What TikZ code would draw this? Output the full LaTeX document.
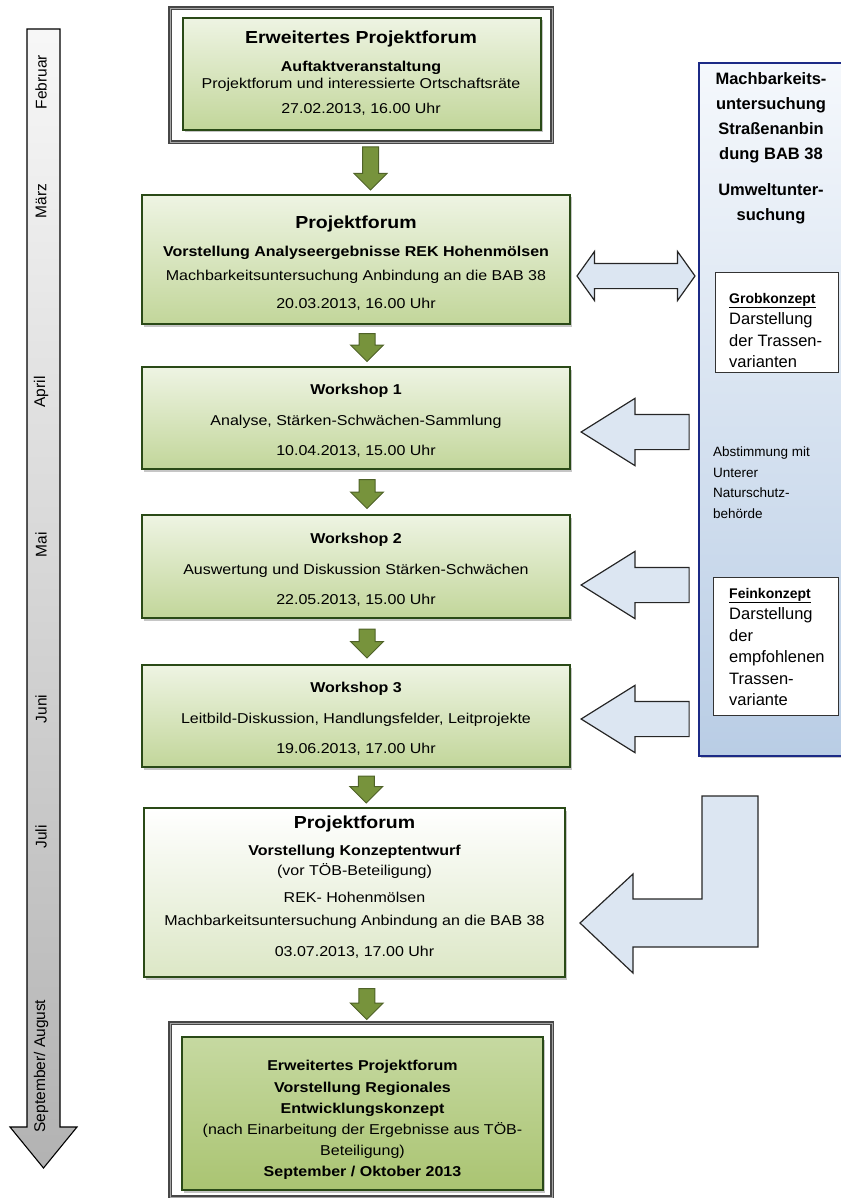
\documentclass[tikz,border=0pt]{standalone}
\usepackage{fontspec}
\setmainfont{Liberation Sans}[FakeStretch=1.12]
\newfontfamily\panelfont{Liberation Sans}
\usetikzlibrary{calc,shapes.arrows,shadows}

\definecolor{boxlight}{HTML}{EEF4E3}
\definecolor{boxgreen}{HTML}{C2D69A}
\definecolor{boxpale}{HTML}{DCE7C6}
\definecolor{boxtop}{HTML}{C6D9A1}
\definecolor{boxmid}{HTML}{9DBD5C}
\definecolor{boxbot}{HTML}{AAC472}
\definecolor{edgegreen}{HTML}{2A4A17}
\definecolor{arrgreen}{HTML}{77933C}
\definecolor{arrgreenedge}{HTML}{4F6228}
\definecolor{arrblue}{HTML}{DCE6F2}
\definecolor{paneltop}{HTML}{F5F8FC}
\definecolor{panelblue}{HTML}{B9CDE5}
\definecolor{paneledge}{HTML}{1C2A86}

\newcommand{\boxtitle}[1]{{\fontsize{17.4}{20}\selectfont\bfseries #1}}
\newcommand{\konzept}[1]{\underline{\fontsize{14}{21.5}\selectfont\bfseries #1}}

\begin{document}
\begin{tikzpicture}[x=1pt, y=-1pt,
    gbox/.style={draw=edgegreen, line width=1.4pt, top color=boxlight, bottom color=boxgreen, inner sep=0pt,
      drop shadow={shadow xshift=2pt, shadow yshift=-2.5pt, opacity=.45}},
    outerframe/.style={draw=black!72, line width=1.4pt, double=black!35, double distance=0.9pt, fill=white, inner sep=0pt},
    txt/.style={align=center, inner sep=0pt, anchor=north, font=\fontsize{14.3}{19}\selectfont},
    garrow/.style={single arrow, draw=arrgreenedge, fill=arrgreen, line width=1pt, rotate=-90, inner sep=0pt,
      text height=7.5pt, text depth=7.5pt, single arrow head extend=8.5pt, single arrow tip angle=90, minimum width=0pt},
    barrow/.style={single arrow, draw=black!85, fill=arrblue, line width=1.2pt, rotate=180, inner sep=0pt,
      text height=17pt, text depth=17pt, single arrow head extend=16pt, single arrow tip angle=64,
      minimum height=108pt, minimum width=0pt, anchor=tip},
    month/.style={rotate=90, inner sep=0pt, font=\panelfont\fontsize{15.5}{18}\selectfont},
    panel/.style={draw=paneledge, line width=1.6pt, top color=paneltop, bottom color=panelblue, inner sep=0pt,
      anchor=north west, drop shadow={shadow xshift=2pt, shadow yshift=-2.5pt, opacity=.45}},
    kbox/.style={draw=black!80, line width=0.9pt, fill=white, inner sep=0pt, anchor=north west},
    ktext/.style={align=left, inner sep=0pt, anchor=north west, font=\panelfont\fontsize{16.5}{21.5}\selectfont}
  ]
  \useasboundingbox (0,0) rectangle (840,1198);

  % 1. Zeitachse links
  \draw[line width=1.1pt, top color=black!3, bottom color=black!30]
    (27,29) -- (60,29) -- (60,1127) -- (77,1127) -- (43.5,1168) -- (10,1127) -- (27,1127) -- cycle;
  \node[month] (feb) at (41,82) {Februar};
  \node[month] (mar) at (41,201) {März};
  \node[month] (apr) at (41,392) {April};
  \node[month] (mai) at (41,545) {Mai};
  \node[month] (jun) at (41,709) {Juni};
  \node[month] (jul) at (41,837) {Juli};
  \node[month] (sep) at (41,1066) {September/ August};

  % 2. Termine (Kästen)
  \node[outerframe, minimum width=382, minimum height=134] (efpframe) at (361,75) {};
  \node[gbox, minimum width=358, minimum height=112] (efp) at (362,74) {};
  \node[txt] (efpt) at ($(efp.north)+(-1,13)$) {\boxtitle{Erweitertes Projektforum}\\[9pt]
    \textbf{Auftaktveranstaltung}\\[-2pt]Projektforum und interessierte Ortschaftsräte\\[6pt]27.02.2013, 16.00 Uhr};

  \node[gbox, minimum width=428, minimum height=129] (pf1) at (356,259.5) {};
  \node[txt] (pf1t) at ($(pf1.north)+(0,21)$) {\boxtitle{Projektforum}\\[9pt]
    \textbf{Vorstellung Analyseergebnisse REK Hohenmölsen}\\[5pt]
    Machbarkeitsuntersuchung Anbindung an die BAB 38\\[9pt]20.03.2013, 16.00 Uhr};

  \node[gbox, minimum width=428, minimum height=102] (ws1) at (356,418) {};
  \node[txt] (ws1t) at ($(ws1.north)+(0,18)$) {\textbf{Workshop 1}\\[12pt]
    Analyse, Stärken-Schwächen-Sammlung\\[11pt]10.04.2013, 15.00 Uhr};

  \node[gbox, minimum width=428, minimum height=103] (ws2) at (356,566.5) {};
  \node[txt] (ws2t) at ($(ws2.north)+(0,18.5)$) {\textbf{Workshop 2}\\[12pt]
    Auswertung und Diskussion Stärken-Schwächen\\[11pt]22.05.2013, 15.00 Uhr};

  \node[gbox, minimum width=428, minimum height=102] (ws3) at (356,716) {};
  \node[txt] (ws3t) at ($(ws3.north)+(0,17.5)$) {\textbf{Workshop 3}\\[12pt]
    Leitbild-Diskussion, Handlungsfelder, Leitprojekte\\[11pt]19.06.2013, 17.00 Uhr};

  \node[gbox, top color=white, bottom color=boxpale, minimum width=421, minimum height=169] (pfj) at (354.5,892.5) {};
  \node[txt] (pfjt) at ($(pfj.north)+(0,8)$) {\boxtitle{Projektforum}\\[8pt]
    \textbf{Vorstellung Konzeptentwurf}\\[1pt](vor TÖB-Beteiligung)\\[8pt]REK- Hohenmölsen\\[4pt]
    Machbarkeitsuntersuchung Anbindung an die BAB 38\\[12pt]03.07.2013, 17.00 Uhr};

  \node[outerframe, minimum width=382, minimum height=174] (rekframe) at (361,1110) {};
  \node[gbox, top color=boxtop, middle color=boxmid, bottom color=boxbot, minimum width=361, minimum height=153] (rek) at (362.5,1113.5) {};
  \node[txt, font=\fontsize{14.3}{21.2}\selectfont] (rekt) at ($(rek.north)+(0,24)$) {\textbf{Erweitertes Projektforum}\\
    \textbf{Vorstellung Regionales}\\\textbf{Entwicklungskonzept}\\
    (nach Einarbeitung der Ergebnisse aus TÖB-\\Beteiligung)\\\textbf{September / Oktober 2013}};

  % 3. Pfeile zwischen den Terminen
  \node[garrow, minimum height=43pt] (g1) at ($(efpframe.south)!.5!(pf1.north)+(12,-4)$) {};
  \node[garrow, minimum height=28pt] (g2) at ($(pf1.south)!.5!(ws1.north)+(11,-2)$) {};
  \node[garrow, minimum height=29pt] (g3) at ($(ws1.south)!.5!(ws2.north)+(11,-2)$) {};
  \node[garrow, minimum height=29pt] (g4) at ($(ws2.south)!.5!(ws3.north)+(11,-2)$) {};
  \node[garrow, minimum height=27pt] (g5) at ($(ws3.south)!.5!(pfj.north)+(11,-2)$) {};
  \node[garrow, minimum height=31pt] (g6) at ($(pfj.south)!.5!(rekframe.north)+(9,0)$) {};

  % 4. Machbarkeitsuntersuchung rechts
  \node[panel, minimum width=150, minimum height=693] (mu) at (698,62) {};
  \node[align=center, inner sep=0pt, anchor=north, font=\panelfont\bfseries\fontsize{16.5}{25}\selectfont] (mut) at (771,72)
    {Machbarkeits-\\untersuchung\\Straßenanbin\\dung BAB 38\\[11pt]Umweltunter-\\suchung};
  \node[kbox, minimum width=123, minimum height=100] (grob) at (715,272) {};
  \node[ktext] (grobt) at (729,293) {\konzept{Grobkonzept}\\Darstellung\\der Trassen-\\varianten};
  \node[align=left, inner sep=0pt, anchor=north west, font=\panelfont\fontsize{13.5}{20.5}\selectfont] (abst) at (713,447)
    {Abstimmung mit\\Unterer\\Naturschutz-\\behörde};
  \node[kbox, minimum width=125, minimum height=138] (fein) at (713,577) {};
  \node[ktext] (feint) at (729,588) {\konzept{Feinkonzept}\\Darstellung\\der\\empfohlenen\\Trassen-\\variante};

  % 5. Blockpfeile zur Machbarkeitsuntersuchung
  \node[double arrow, draw=black!85, fill=arrblue, line width=1.2pt, inner sep=0pt, text height=12pt, text depth=12pt,
    double arrow head extend=12pt, double arrow tip angle=109, minimum height=118pt, minimum width=0pt] (dbl) at (636,276) {};
  \node[barrow] (b1) at (580,432) {};
  \node[barrow] (b2) at (580,585) {};
  \node[barrow] (b3) at (580,719) {};
  \draw[draw=black!85, fill=arrblue, line width=1.2pt]
    (758,796) -- (758,947) -- (633,947) -- (633,973) -- (580,923) -- (633,874) -- (633,899) -- (702,899) -- (702,796) -- cycle;
\end{tikzpicture}
\end{document}
